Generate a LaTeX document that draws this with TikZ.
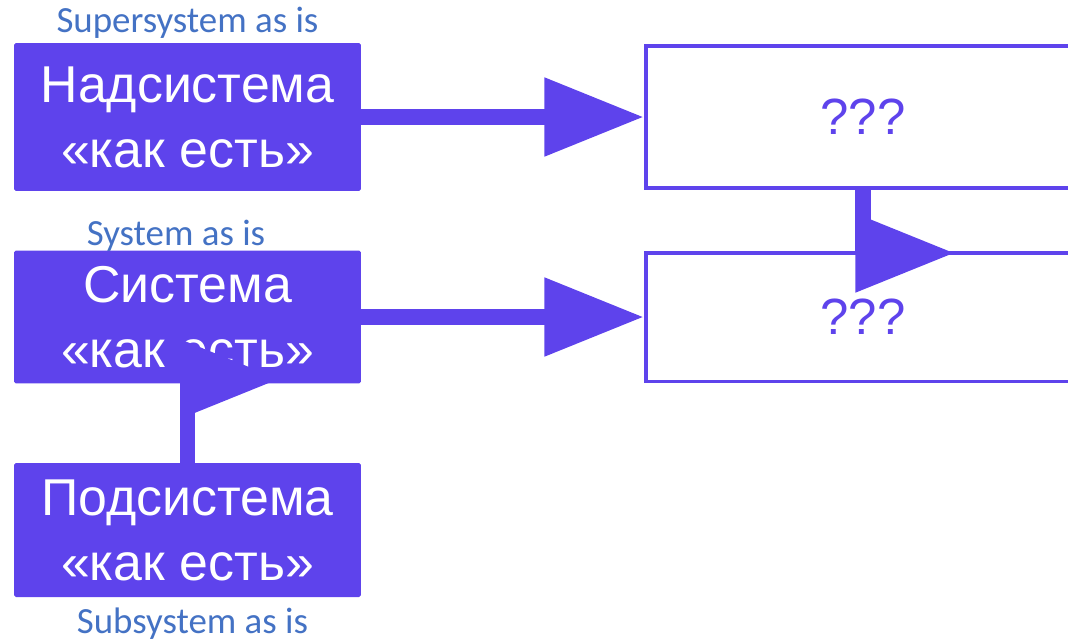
\documentclass[tikz,border=0pt]{standalone}
\usepackage{fontspec}
\setmainfont{Liberation Sans}
\newfontfamily\captionfont{Carlito}
\usetikzlibrary{arrows.meta}

\definecolor{boxviolet}{RGB}{94,67,236}
\definecolor{captionblue}{RGB}{68,114,196}

\tikzset{
  asis/.style={fill=boxviolet, rounded corners=1pt, text=white, align=center,
    minimum width=6.94cm, inner sep=0pt, font=\fontsize{29.5}{37}\selectfont},
  tobe/.style={draw=boxviolet, line width=2.27pt, text=boxviolet,
    minimum width=8.68cm, inner sep=0pt, font=\fontsize{29}{35}\selectfont},
  caption/.style={text=captionblue, anchor=base, font=\captionfont\fontsize{21}{25}\selectfont},
  flow/.style={draw=boxviolet, line width=9.07pt,
    -{Triangle[length=56.7pt, width=42.5pt]}},
}

\begin{document}
\begin{tikzpicture}[x=0.02cm, y=-0.02cm]
      \useasboundingbox (0,0) rectangle (1068,640);
      \clip (0,0) rectangle (1068,640);

      % Boxes on the left
      \node[asis, minimum height=2.96cm] (sup) at (187.5,117) {Надсистема\\«как есть»};
      \node[asis, minimum height=2.66cm] (sys) at (187.5,317) {Система\\«как есть»};
      \node[asis, minimum height=2.68cm] (sub) at (187.5,530) {Подсистема\\«как есть»};

      % Boxes on the right
      \node[tobe, minimum height=2.86cm] (supnew) at (863,117) {???};
      \node[tobe, minimum height=2.58cm] (sysnew) at (863,317) {???};

      % Arrows
      \draw[flow] (sup.east) -- (supnew.west);
      \draw[flow] (sys.east) -- (sysnew.west);

      \coordinate (supturn) at (955,253);
      \draw[flow] (supnew.south) |- (supturn);
      \coordinate (systurn) at (280,379);
      \draw[flow] (sub.north) |- (systurn);

      % Captions
      \node[caption] (supcap) at (187.5,32) {Supersystem as is};
      \node[caption] (syscap) at (176,245) {System as is};
      \node[caption] (subcap) at (192.5,633) {Subsystem as is};
    \end{tikzpicture}
\end{document}
